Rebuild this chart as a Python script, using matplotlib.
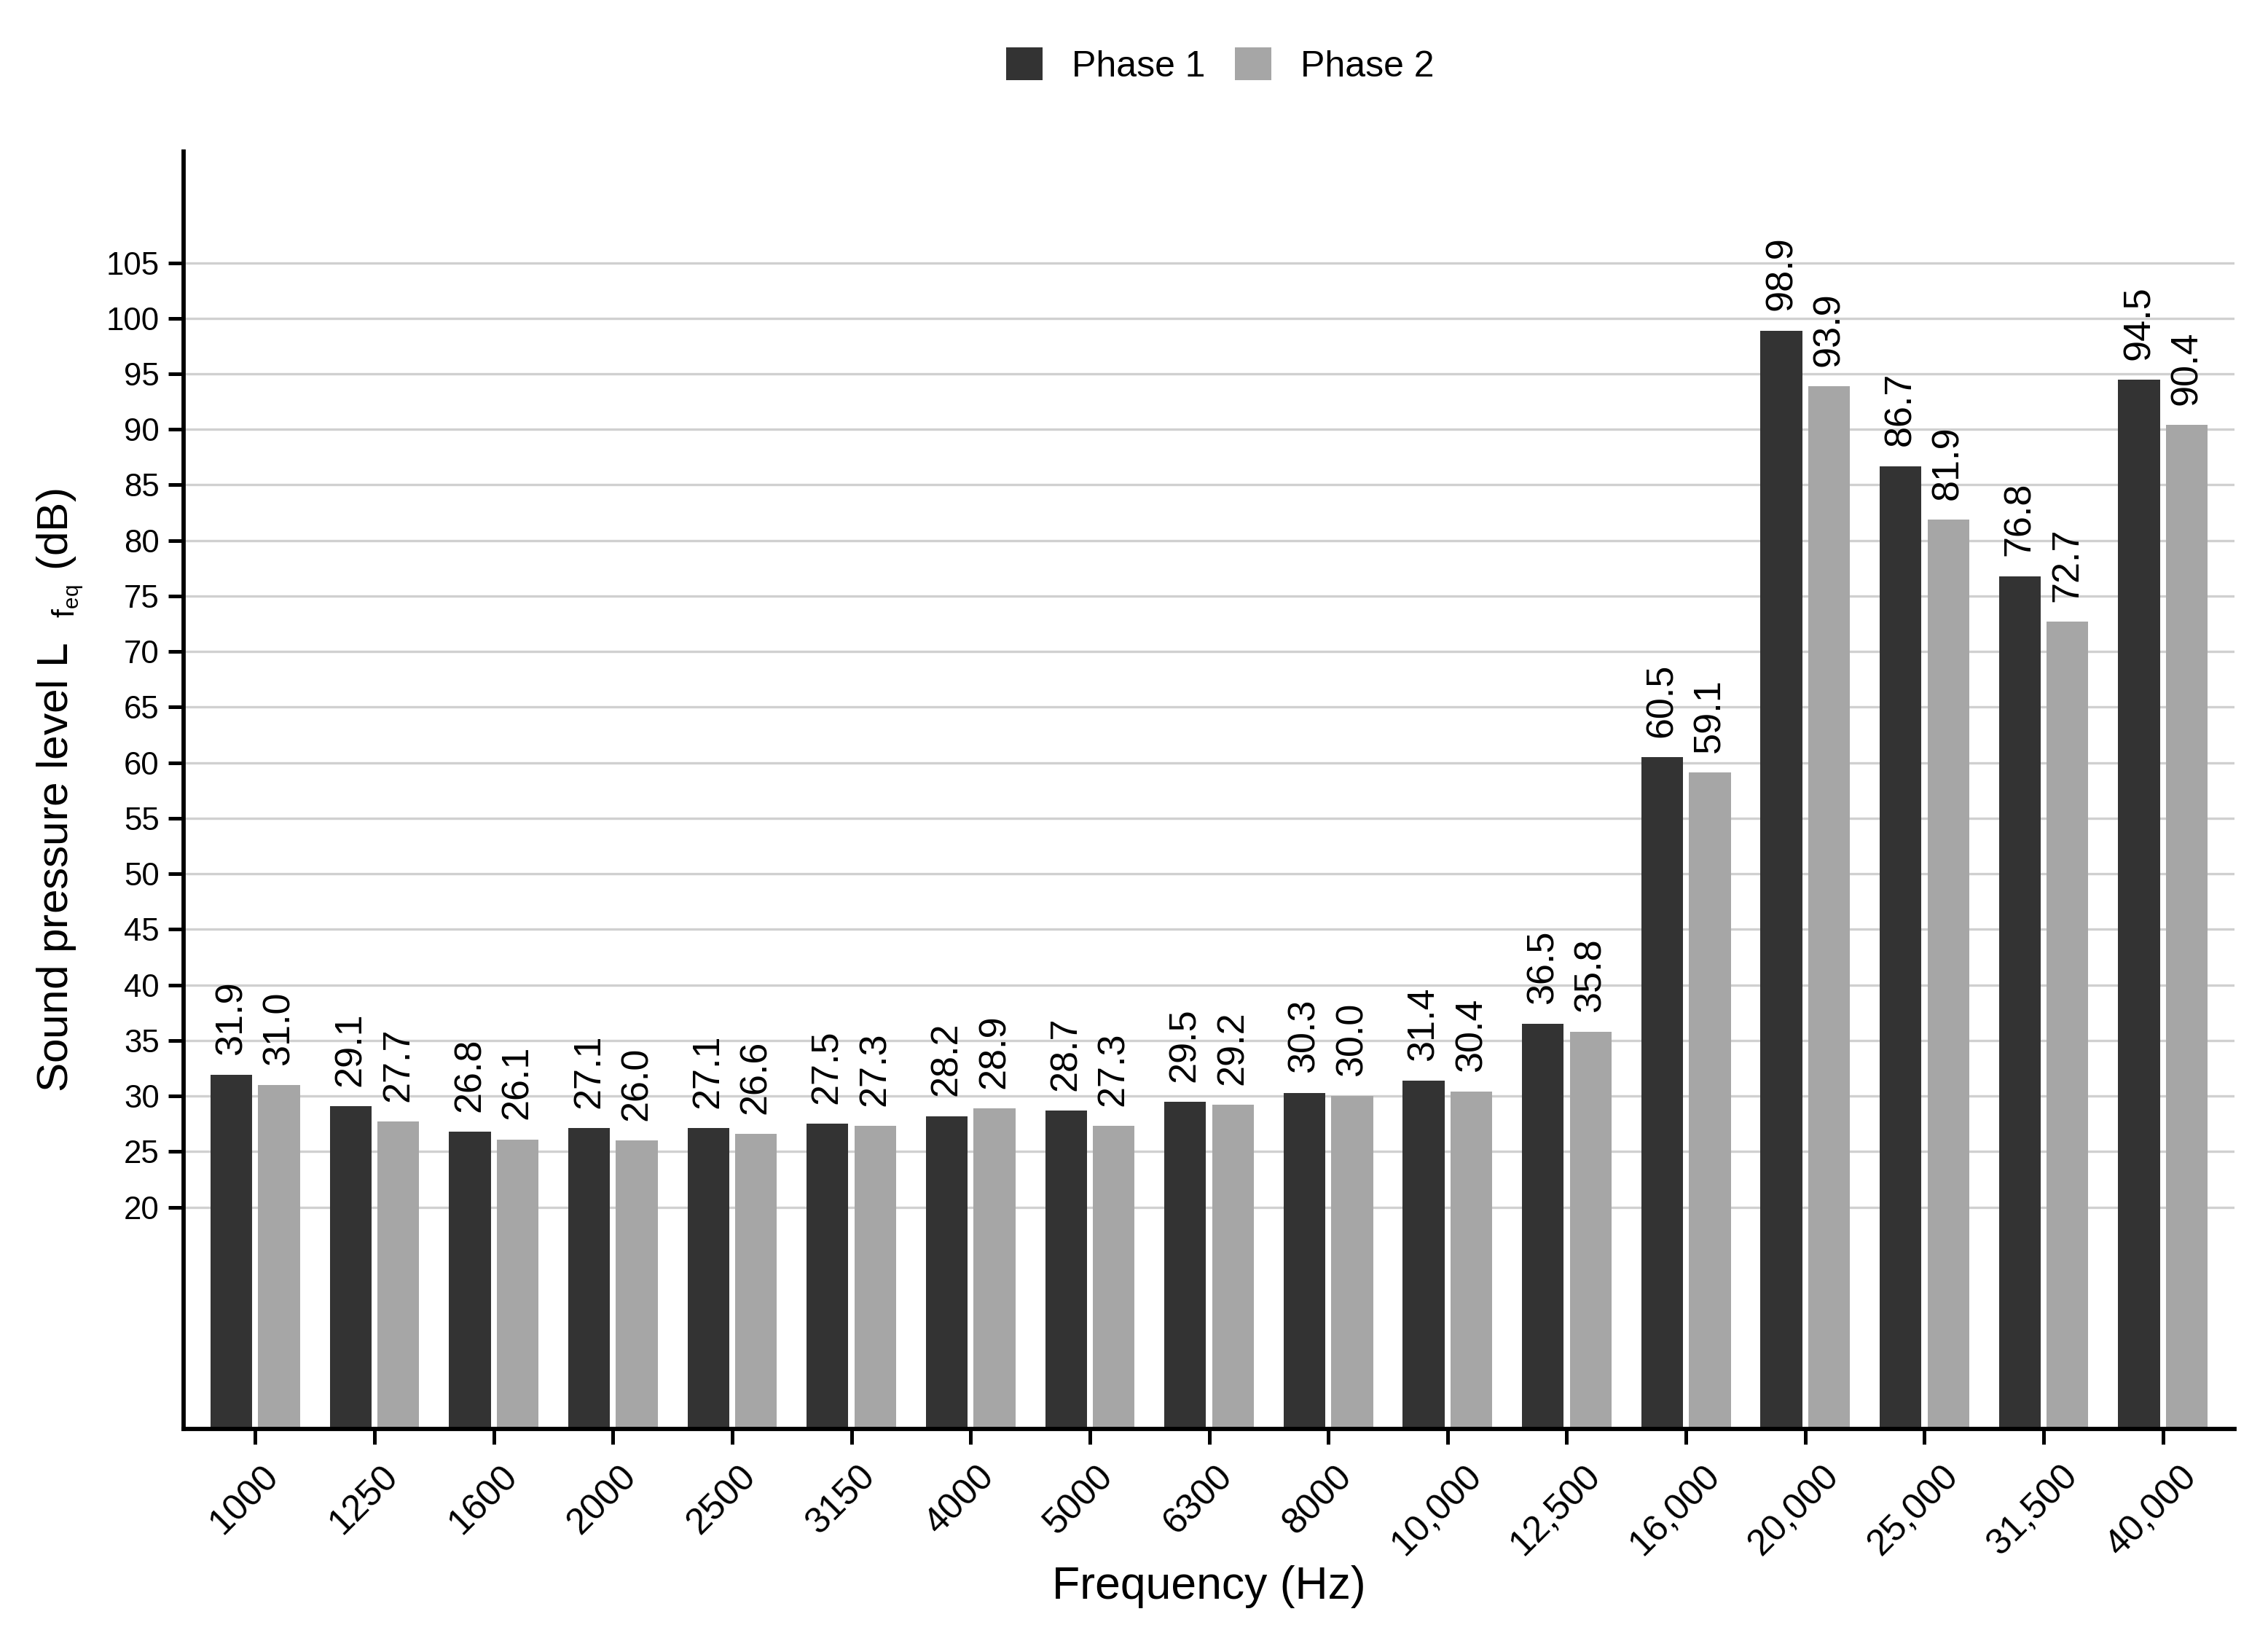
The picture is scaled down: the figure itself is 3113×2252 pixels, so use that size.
import numpy as np
import matplotlib
matplotlib.use("Agg")
import matplotlib.pyplot as plt
import matplotlib.transforms as mtransforms

plt.rcParams["font.family"] = ["Liberation Sans", "DejaVu Sans"]
plt.rcParams["mathtext.fontset"] = "custom"
plt.rcParams["mathtext.rm"] = "Liberation Sans"

# Data
frequencies = ["1000", "1250", "1600", "2000", "2500", "3150", "4000", "5000",
               "6300", "8000", "10,000", "12,500", "16,000", "20,000", "25,000",
               "31,500", "40,000"]
phase1 = [31.9, 29.1, 26.8, 27.1, 27.1, 27.5, 28.2, 28.7, 29.5, 30.3, 31.4,
          36.5, 60.5, 98.9, 86.7, 76.8, 94.5]
phase2 = [31.0, 27.7, 26.1, 26.0, 26.6, 27.3, 28.9, 27.3, 29.2, 30.0, 30.4,
          35.8, 59.1, 93.9, 81.9, 72.7, 90.4]

dark = "#333333"
light = "#a6a6a6"

fig = plt.figure(figsize=(3113 / 300, 2252 / 300), dpi=300)
ax = fig.add_axes([0.081, 0.129, 0.9042, 0.7786])

x = np.arange(len(frequencies))
w = 0.35
b1 = ax.bar(x - 0.2, phase1, w, color=dark, label="Phase 1", zorder=2)
b2 = ax.bar(x + 0.2, phase2, w, color=light, label="Phase 2", zorder=2)

for bars, vals in ((b1, phase1), (b2, phase2)):
    for rect, v in zip(bars, vals):
        ax.annotate(f"{v:.1f}", (rect.get_x() + rect.get_width() / 2, v),
                    xytext=(0, 6.5), textcoords="offset points",
                    rotation=90, ha="center", va="bottom", fontsize=12.5)

ax.set_xlim(-0.6, len(frequencies) - 0.4)
ax.set_ylim(0, 115)
ax.set_yticks(np.arange(20, 106, 5))
ax.set_xticks(x)
ax.set_xticklabels(frequencies, rotation=45, ha="center", fontsize=12)
ax.tick_params(axis="y", labelsize=10.5, length=5, width=1.2, pad=3)
ax.tick_params(axis="x", length=5, width=1.2, pad=5)
# nudge the slanted labels a little left, as in the original
shift = mtransforms.ScaledTranslation(-3.5 / 72, 0, fig.dpi_scale_trans)
for lab in ax.get_xticklabels():
    lab.set_transform(lab.get_transform() + shift)
ax.yaxis.grid(True, color="#d0d0d0", linewidth=0.8, zorder=0)
ax.set_axisbelow(True)

for s in ("top", "right"):
    ax.spines[s].set_visible(False)
for s in ("left", "bottom"):
    ax.spines[s].set_linewidth(1.4)

ax.set_xlabel("Frequency (Hz)", fontsize=15, labelpad=1)
ax.set_ylabel(r"Sound pressure level L  $\mathregular{_{f_{eq}}}$ (dB)", fontsize=14.5, labelpad=7)

fig.legend(handles=[b1, b2], loc="center", bbox_to_anchor=(0.538, 0.96), ncol=2,
           frameon=False, fontsize=12, handlelength=1.0, handleheight=1.0,
           handletextpad=0.8, columnspacing=0.8)

fig.savefig("out.png", dpi=300)
